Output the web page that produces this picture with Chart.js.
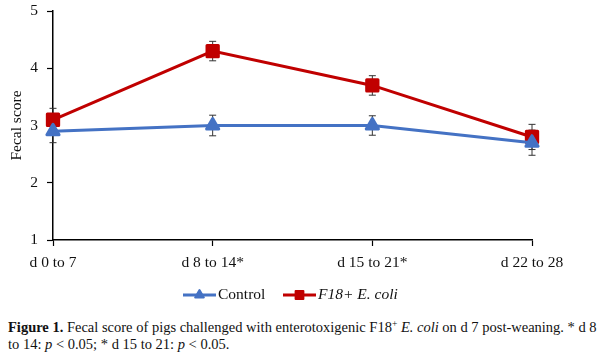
<!DOCTYPE html>
<html>
<head>
<meta charset="utf-8">
<script src="https://cdn.jsdelivr.net/npm/chart.js@4/dist/chart.umd.min.js"></script>
<style>
  html, body { margin: 0; padding: 0; background: #fff; }
  body { width: 600px; height: 352px; position: relative; overflow: hidden; }
  #wrap { position: absolute; left: 0; top: 0; width: 600px; height: 312px; }
  #caption { position: absolute; left: 8px; top: 319px; width: 592px;
    font-family: "Liberation Serif", "DejaVu Serif", serif; font-size: 14.5px; line-height: 17px; color: #111; white-space: nowrap; }
  #caption b { font-weight: bold; }
</style>
</head>
<body>
<div id="wrap"><canvas id="c" width="600" height="312"></canvas></div>
<div id="caption"><b>Figure 1.</b> Fecal score of pigs challenged with enterotoxigenic F18<sup style="font-size:9.5px;vertical-align:5px;line-height:0">+</sup> <i>E. coli</i> on d 7 post-weaning. * d 8<br>to 14: <i>p</i> &lt; 0.05; * d 15 to 21: <i>p</i> &lt; 0.05.</div>
<script>
const categories = ["d 0 to 7", "d 8 to 14*", "d 15 to 21*", "d 22 to 28"];
const controlValues = [2.9, 3.0, 3.0, 2.7];
const controlErrors = [0.2, 0.18, 0.17, 0.22];
const ecoliValues = [3.1, 4.3, 3.7, 2.8];
const ecoliErrors = [0.2, 0.17, 0.17, 0.22];
const yTicks = [1, 2, 3, 4, 5];
const seriesNames = ["Control", "F18+ E. coli"];

const BLUE = "#4472C4";
const RED = "#C00000";
const FONT = "'Liberation Serif', 'DejaVu Serif', serif";

const errorBarPlugin = {
  id: "errorBars",
  beforeDatasetsDraw(chart) {
    const ctx = chart.ctx;
    const y = chart.scales.y;
    ctx.save();
    ctx.strokeStyle = "#333";
    ctx.lineWidth = 1;
    chart.data.datasets.forEach((ds, di) => {
      const meta = chart.getDatasetMeta(di);
      meta.data.forEach((pt, i) => {
        const v = ds.data[i], e = ds.errors[i];
        const yt = y.getPixelForValue(v + e), yb = y.getPixelForValue(v - e);
        const x = pt.x;
        ctx.beginPath();
        ctx.moveTo(x, yt); ctx.lineTo(x, yb);
        ctx.moveTo(x - 3.5, yt); ctx.lineTo(x + 3.5, yt);
        ctx.moveTo(x - 3.5, yb); ctx.lineTo(x + 3.5, yb);
        ctx.stroke();
      });
    });
    ctx.restore();
    ctx.lineJoin = "round";
  },
  afterDatasetsDraw(chart) {
    chart.ctx.lineJoin = "miter";
  }
};

const legendPlugin = {
  id: "customLegend",
  afterDraw(chart) {
    const ctx = chart.ctx;
    const items = [
      { ds: chart.data.datasets[0], x: 183, italic: false },
      { ds: chart.data.datasets[1], x: 283, italic: true }
    ];
    const yc = 295;
    ctx.save();
    items.forEach(it => {
      const ds = it.ds;
      ctx.strokeStyle = ds.borderColor;
      ctx.lineWidth = 3;
      ctx.lineJoin = "miter";
      ctx.beginPath();
      ctx.moveTo(it.x, yc); ctx.lineTo(it.x + 33, yc);
      ctx.stroke();
      ctx.fillStyle = ds.pointBackgroundColor;
      ctx.strokeStyle = ds.pointBorderColor;
      ctx.lineWidth = 2;
      ctx.lineJoin = "round";
      Chart.helpers.drawPoint(ctx, {
        pointStyle: ds.pointStyle, radius: ds.legendRadius, rotation: 0,
        borderWidth: 2
      }, it.x + 16.5, yc);
      ctx.fillStyle = "#111";
      ctx.textBaseline = "middle";
      ctx.textAlign = "left";
      ctx.font = (it.italic ? "italic " : "") + "15.5px " + FONT;
      ctx.fillText(ds.label, it.x + 35, yc);
    });
    ctx.restore();
  }
};

new Chart(document.getElementById("c"), {
  type: "line",
  data: {
    labels: categories,
    datasets: [
      {
        label: seriesNames[0], data: controlValues, errors: controlErrors,
        borderColor: BLUE, backgroundColor: BLUE, borderWidth: 3,
        pointStyle: "triangle", pointRadius: 7, legendRadius: 5,
        pointBackgroundColor: BLUE, pointBorderColor: BLUE, pointBorderWidth: 3,
        tension: 0
      },
      {
        label: seriesNames[1], data: ecoliValues, errors: ecoliErrors,
        borderColor: RED, backgroundColor: RED, borderWidth: 3,
        pointStyle: "rect", pointRadius: 8, legendRadius: 5.5,
        pointBackgroundColor: RED, pointBorderColor: RED, pointBorderWidth: 3,
        tension: 0
      }
    ]
  },
  options: {
    responsive: false,
    animation: false,
    layout: { padding: { left: 0, right: 68, top: 0, bottom: 42 } },
    plugins: { legend: { display: false }, tooltip: { enabled: false } },
    scales: {
      x: {
        offset: false,
        grid: { display: true, drawOnChartArea: false, tickLength: 6, color: "#000", tickColor: "#000", tickWidth: 1.2 },
        border: { display: true, color: "#000", width: 1.5 },
        ticks: { color: "#111", font: { family: FONT, size: 15.5 }, padding: 8, maxRotation: 0, autoSkip: false },
        afterFit(s) { s.height = 30; }
      },
      y: {
        min: 1, max: 5,
        afterBuildTicks(s) { s.ticks = yTicks.map(v => ({ value: v })); },
        grid: { display: true, drawOnChartArea: false, tickLength: 6, color: "#000", tickColor: "#000", tickWidth: 1.2 },
        border: { display: true, color: "#000", width: 1.5 },
        ticks: { color: "#111", font: { family: FONT, size: 15.5 }, padding: 9 },
        title: { display: true, text: "Fecal score", color: "#111", font: { family: FONT, size: 15.5 }, padding: { top: 8, bottom: 0 } },
        afterFit(s) { s.width = 53; s.paddingTop = 9; }
      }
    }
  },
  plugins: [errorBarPlugin, legendPlugin]
});
</script>
</body>
</html>
